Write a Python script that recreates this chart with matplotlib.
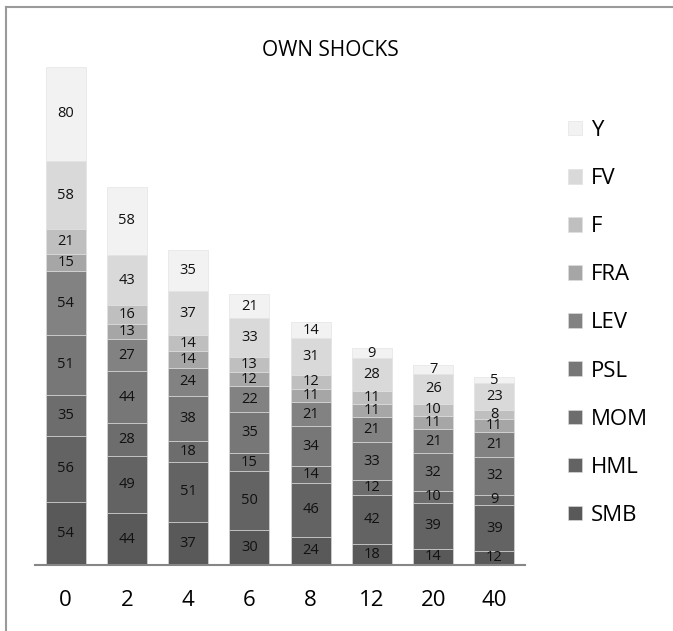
import matplotlib.pyplot as plt
from matplotlib.lines import Line2D

plt.rcParams['font.family'] = ['Open Sans', 'DejaVu Sans']

# horizontes
categorias = ['0', '2', '4', '6', '8', '12', '20', '40']

# series (de abajo hacia arriba)
smb = [54, 44, 37, 30, 24, 18, 14, 12]
hml = [56, 49, 51, 50, 46, 42, 39, 39]
mom = [35, 28, 18, 15, 14, 12, 10, 9]
psl = [51, 44, 38, 35, 34, 33, 32, 32]
lev = [54, 27, 24, 22, 21, 21, 21, 21]
fra = [15, 13, 14, 12, 11, 11, 11, 11]
f = [21, 16, 14, 13, 12, 11, 10, 8]
fv = [58, 43, 37, 33, 31, 28, 26, 23]
y = [80, 58, 35, 21, 14, 9, 7, 5]

nombres = ['SMB', 'HML', 'MOM', 'PSL', 'LEV', 'FRA', 'F', 'FV', 'Y']
series = [smb, hml, mom, psl, lev, fra, f, fv, y]
colores = ['#595959', '#636363', '#6d6d6d', '#777777', '#828282',
           '#a6a6a6', '#bfbfbf', '#d9d9d9', '#f2f2f2']

fig = plt.figure(figsize=(6.73, 6.31), dpi=100)
ax = fig.add_axes([35 / 673, 66 / 631, 490 / 673, 525 / 631])

# marco del grafico (solo izquierda y arriba se ven)
yt = (631 - 6.5) / 631
xl = 5.5 / 673
fig.lines.append(Line2D([xl, xl], [0, yt], transform=fig.transFigure,
                        color='#9a9a9a', linewidth=1.5))
fig.lines.append(Line2D([xl, 1], [yt, yt], transform=fig.transFigure,
                        color='#9a9a9a', linewidth=1.5))

x = range(len(categorias))
base = [0] * len(categorias)
barras = []
for nombre, vals, col in zip(nombres, series, colores):
    b = ax.bar(x, vals, bottom=base, width=0.65, color=col, label=nombre,
               edgecolor='#e0e0e0', linewidth=0.4)
    ax.bar_label(b, labels=[str(v) for v in vals], label_type='center',
                 fontsize=10.5, color='#111111')
    barras.append(b)
    base = [a + v for a, v in zip(base, vals)]

ax.set_xlim(-0.5, 7.5)
ax.set_ylim(0, 447)
ax.set_xticks(list(x))
ax.set_xticklabels(categorias, fontsize=16)
ax.tick_params(axis='x', length=0, pad=18)
ax.set_yticks([])
for s in ['top', 'right', 'left']:
    ax.spines[s].set_visible(False)
ax.spines['bottom'].set_color('#868686')
ax.spines['bottom'].set_linewidth(1.5)

fig.text(330 / 673, (631 - 50) / 631, 'OWN SHOCKS', ha='center', va='center',
         fontsize=15)

fig.legend(barras[::-1], nombres[::-1], loc='upper left',
           bbox_to_anchor=(548 / 673, (631 - 100) / 631), frameon=False,
           fontsize=16, handlelength=0.63, handleheight=0.63,
           labelspacing=1.22, handletextpad=0.4)

plt.savefig('out.png', dpi=100)
